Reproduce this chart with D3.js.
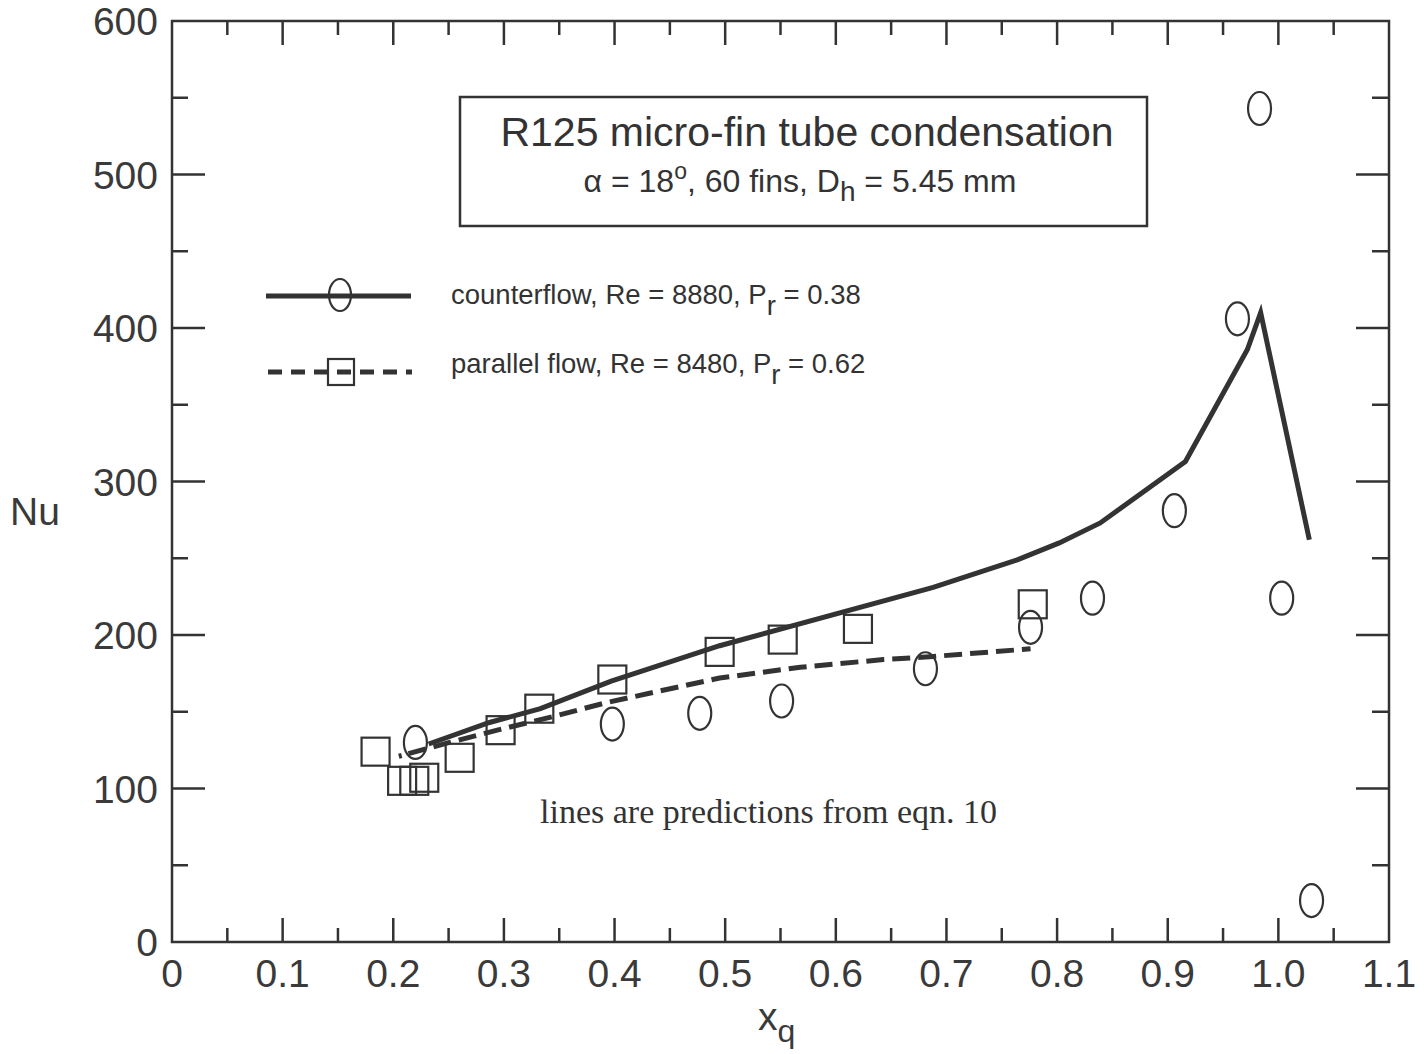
<!DOCTYPE html>
<html><head><meta charset="utf-8">
<script src="https://cdn.jsdelivr.net/npm/d3@7"></script>
<style>body{margin:0;background:#fff}svg{display:block}</style>
</head><body>
<script>
// Data
const xTicks = [0,0.1,0.2,0.3,0.4,0.5,0.6,0.7,0.8,0.9,1.0,1.1];
const xTickLabels = ["0","0.1","0.2","0.3","0.4","0.5","0.6","0.7","0.8","0.9","1.0","1.1"];
const yTicks = [0,100,200,300,400,500,600];
const counterX = [0.220,0.398,0.477,0.551,0.681,0.776,0.832,0.906,0.963,0.983,1.003,1.030];
const counterNu = [130,142,149,157,178,205,224,281,406,543,224,27];
const parallelX = [0.184,0.208,0.219,0.228,0.260,0.297,0.332,0.398,0.495,0.552,0.620,0.778];
const parallelNu = [124,105,105,107,120,138,152,171,189,197,204,220];
const counterPredX = [0.232,0.287,0.333,0.397,0.495,0.688,0.764,0.802,0.839,0.916,0.929,0.972,0.984,1.028];
const counterPredNu = [129,143,152,170,193,231,249,260,273,313,330,386,410,262];
const parallelPredX = [0.205,0.251,0.294,0.345,0.393,0.495,0.568,0.643,0.688,0.776];
const parallelPredNu = [121,130,138,147,156,172,179,184,186,191];

const W=1426,H=1054;
const svg=d3.select("body").append("svg").attr("width",W).attr("height",H);
const x=d3.scaleLinear().domain([0,1.1]).range([172,1389]);
const y=d3.scaleLinear().domain([0,600]).range([942,21]);
const ink="#333";
const font="'Liberation Sans', Arial, Helvetica, sans-serif";

// frame
svg.append("rect").attr("x",x(0)).attr("y",y(600)).attr("width",x(1.1)-x(0)).attr("height",y(0)-y(600))
  .attr("fill","none").attr("stroke",ink).attr("stroke-width",2.5);

// ticks
const xMinor=d3.range(0.05,1.1,0.1);
const yMinor=d3.range(50,600,100);
const g=svg.append("g").attr("stroke",ink).attr("stroke-width",2.5);
xTicks.slice(1,-1).forEach(t=>{
  g.append("line").attr("x1",x(t)).attr("x2",x(t)).attr("y1",y(0)).attr("y2",y(0)-24);
  g.append("line").attr("x1",x(t)).attr("x2",x(t)).attr("y1",y(600)).attr("y2",y(600)+24);
});
xMinor.forEach(t=>{
  g.append("line").attr("x1",x(t)).attr("x2",x(t)).attr("y1",y(0)).attr("y2",y(0)-14);
  g.append("line").attr("x1",x(t)).attr("x2",x(t)).attr("y1",y(600)).attr("y2",y(600)+14);
});
yTicks.slice(1,-1).forEach(t=>{
  g.append("line").attr("x1",x(0)).attr("x2",x(0)+33).attr("y1",y(t)).attr("y2",y(t));
  g.append("line").attr("x1",x(1.1)).attr("x2",x(1.1)-33).attr("y1",y(t)).attr("y2",y(t));
});
yMinor.forEach(t=>{
  g.append("line").attr("x1",x(0)).attr("x2",x(0)+16).attr("y1",y(t)).attr("y2",y(t));
  g.append("line").attr("x1",x(1.1)).attr("x2",x(1.1)-17).attr("y1",y(t)).attr("y2",y(t));
});

// tick labels
svg.append("g").selectAll("text").data(xTicks).join("text")
  .attr("x",d=>x(d)).attr("y",y(0)+45).attr("text-anchor","middle")
  .attr("font-family",font).attr("font-size",39).attr("fill","#3a3a3a")
  .text((d,i)=>xTickLabels[i]);
svg.append("g").selectAll("text").data(yTicks).join("text")
  .attr("x",158).attr("y",d=>y(d)+14).attr("text-anchor","end")
  .attr("font-family",font).attr("font-size",39).attr("fill","#3a3a3a")
  .text(d=>d);

// axis titles
svg.append("text").attr("x",35).attr("y",525).attr("text-anchor","middle")
  .attr("font-family",font).attr("font-size",39).attr("fill","#3a3a3a").text("Nu");
const xt=svg.append("text").attr("x",758).attr("y",1030)
  .attr("font-family",font).attr("font-size",39).attr("fill","#3a3a3a");
xt.append("tspan").text("x");
xt.append("tspan").attr("dy",12).attr("font-size",32).text("q");

// lines
const line=d3.line().x(d=>x(d[0])).y(d=>y(d[1]));
svg.append("path").datum(counterPredX.map((v,i)=>[v,counterPredNu[i]]))
  .attr("d",line).attr("fill","none").attr("stroke",ink).attr("stroke-width",5).attr("stroke-linejoin","miter");
svg.append("path").datum(parallelPredX.map((v,i)=>[v,parallelPredNu[i]]))
  .attr("d",line).attr("fill","none").attr("stroke",ink).attr("stroke-width",5)
  .attr("stroke-dasharray","3 7 18 8 18 8 18 8 18 8 18 8 18 8 18 8 18 8 18 8 18 8 18 8 18 8 18 8 18 8 18 8 18 8 18 8 18 8 18 8 18 8 18 8 18 8 18 8 18 8 18 8 18 8 18 8 18 8 18 8 18 8 18 8 18 8");

// markers
svg.append("g").selectAll("ellipse").data(counterX.map((v,i)=>[v,counterNu[i]])).join("ellipse")
  .attr("cx",d=>x(d[0])).attr("cy",d=>y(d[1])).attr("rx",11.5).attr("ry",16.5)
  .attr("fill","none").attr("stroke",ink).attr("stroke-width",2.2);
svg.append("g").selectAll("rect").data(parallelX.map((v,i)=>[v,parallelNu[i]])).join("rect")
  .attr("x",d=>x(d[0])-14).attr("y",d=>y(d[1])-14).attr("width",28).attr("height",28)
  .attr("fill","none").attr("stroke",ink).attr("stroke-width",2.2);

// title box
svg.append("rect").attr("x",460).attr("y",97).attr("width",687).attr("height",129)
  .attr("fill","#fff").attr("stroke",ink).attr("stroke-width",2.5);
svg.append("text").attr("x",807).attr("y",146).attr("text-anchor","middle")
  .attr("font-family",font).attr("font-size",41).attr("fill","#333").text("R125 micro-fin tube condensation");
const st=svg.append("text").attr("x",800).attr("y",192).attr("text-anchor","middle")
  .attr("font-family",font).attr("font-size",32).attr("fill","#333");
st.append("tspan").text("\u03b1 = 18");
st.append("tspan").attr("dy",-13).attr("font-size",23).text("o");
st.append("tspan").attr("dy",13).text(", 60 fins, D");
st.append("tspan").attr("dy",9).attr("font-size",28).text("h");
st.append("tspan").attr("dy",-9).text(" = 5.45 mm");

// legend
svg.append("line").attr("x1",266).attr("x2",411).attr("y1",296).attr("y2",296).attr("stroke",ink).attr("stroke-width",5);
svg.append("ellipse").attr("cx",340).attr("cy",295).attr("rx",11).attr("ry",16).attr("fill","none").attr("stroke",ink).attr("stroke-width",2.2);
svg.append("line").attr("x1",268).attr("x2",412).attr("y1",372).attr("y2",372).attr("stroke",ink).attr("stroke-width",5).attr("stroke-dasharray","14 9");
svg.append("rect").attr("x",328).attr("y",359).attr("width",26).attr("height",26).attr("fill","none").attr("stroke",ink).attr("stroke-width",2.2);
function legText(yy,label,val){
  const t=svg.append("text").attr("x",451).attr("y",yy).attr("font-family",font).attr("font-size",27.5).attr("fill","#333");
  t.append("tspan").text(label+", P");
  t.append("tspan").attr("dy",11).text("r");
  t.append("tspan").attr("dy",-11).text(" = "+val);
}
legText(304,"counterflow, Re = 8880","0.38");
legText(373,"parallel flow, Re = 8480","0.62");

svg.append("text").attr("x",540).attr("y",823).attr("font-family","'Liberation Serif','Times New Roman',serif")
  .attr("font-size",34).attr("fill","#333").text("lines are predictions from eqn. 10");
</script>
</body></html>
